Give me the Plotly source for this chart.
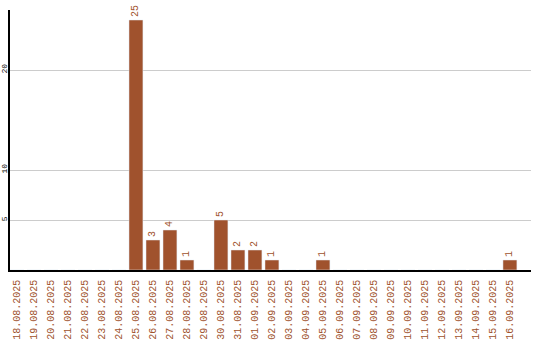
import plotly.graph_objects as go

dates = ["18.08.2025","19.08.2025","20.08.2025","21.08.2025","22.08.2025","23.08.2025","24.08.2025",
         "25.08.2025","26.08.2025","27.08.2025","28.08.2025","29.08.2025","30.08.2025","31.08.2025",
         "01.09.2025","02.09.2025","03.09.2025","04.09.2025","05.09.2025","06.09.2025","07.09.2025",
         "08.09.2025","09.09.2025","10.09.2025","11.09.2025","12.09.2025","13.09.2025","14.09.2025",
         "15.09.2025","16.09.2025"]
counts = [0,0,0,0,0,0,0,25,3,4,1,0,5,2,2,1,0,0,1,0,0,0,0,0,0,0,0,0,0,1]
y_ticks = [5, 10, 20]

color = "#A0522D"
labels = [str(v) if v else "" for v in counts]

fig = go.Figure(go.Bar(
    x=list(range(len(dates))), y=counts, marker_color=color, width=0.82,
    text=labels, textposition="outside", textangle=-90, cliponaxis=False,
    textfont=dict(family="Liberation Mono", size=10, color=color),
))
fig.update_layout(
    width=540, height=340, margin=dict(l=10, r=9, t=10, b=70),
    plot_bgcolor="white", paper_bgcolor="white", showlegend=False,
)
fig.update_xaxes(range=[-0.41, 30.24], tickvals=list(range(len(dates))), ticktext=dates,
                 tickangle=-90, tickfont=dict(family="Liberation Mono", size=10, color=color),
                 showline=True, linecolor="black", linewidth=1.5, showgrid=False, ticks="",
                 automargin=False, ticklabelstandoff=4)
fig.update_yaxes(range=[0, 26], tickvals=y_ticks, tickangle=-90,
                 tickfont=dict(family="Liberation Mono", size=8, color="black"),
                 showline=True, linecolor="black", linewidth=1.5, showgrid=True,
                 gridcolor="#cccccc", gridwidth=1, zeroline=False, ticks="",
                 automargin=False, ticklabelstandoff=-2)
fig.write_html("out.html")
